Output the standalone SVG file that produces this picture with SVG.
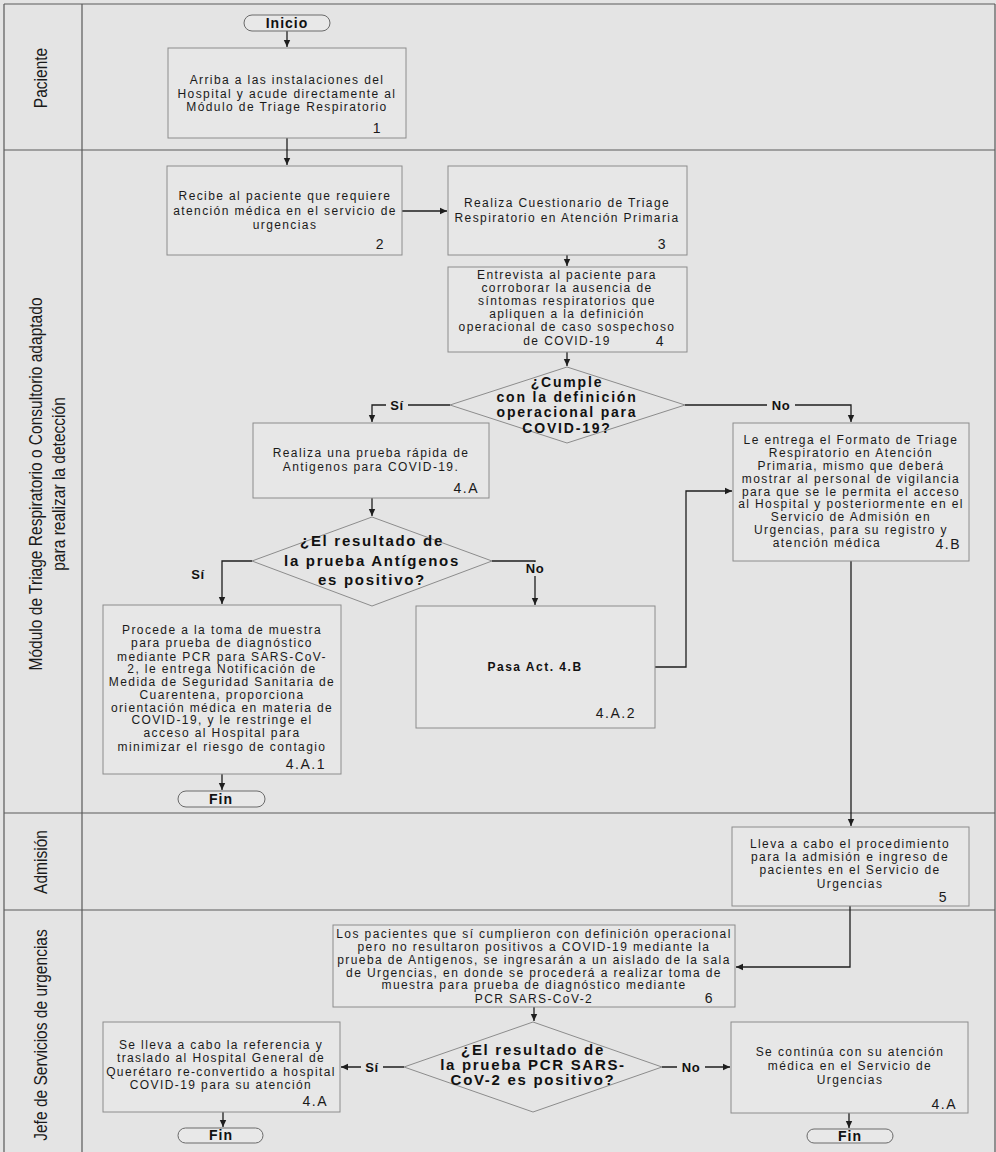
<svg xmlns="http://www.w3.org/2000/svg" width="996" height="1152" viewBox="0 0 996 1152">
<style>
.bg{fill:#e4e4e4}
.lane{stroke:#5a5a5a;stroke-width:1.2;fill:none}
.box{fill:#e7e7e7;stroke:#8c8c8c;stroke-width:1}
.dec{fill:#e5e5e5;stroke:#8c8c8c;stroke-width:1}
.term{fill:#e8e8e8;stroke:#6a6a6a;stroke-width:1}
.t{font-family:"Liberation Sans",Arial,sans-serif;font-size:12px;letter-spacing:1.4px;fill:#1a1a1a;text-anchor:middle}
.n{font-family:"Liberation Sans",Arial,sans-serif;font-size:14px;letter-spacing:1.5px;fill:#1a1a1a;text-anchor:end}
.b{font-family:"Liberation Sans",Arial,sans-serif;font-size:14px;font-weight:bold;letter-spacing:1.8px;fill:#111;text-anchor:middle}
.b2{font-family:"Liberation Sans",Arial,sans-serif;font-size:15px;font-weight:bold;letter-spacing:1.7px;fill:#111;text-anchor:middle}
.tb{font-family:"Liberation Sans",Arial,sans-serif;font-size:14px;font-weight:bold;letter-spacing:1px;fill:#111;text-anchor:middle}
.bs{font-family:"Liberation Sans",Arial,sans-serif;font-size:12px;font-weight:bold;letter-spacing:1.5px;fill:#111;text-anchor:middle}
.lbl{font-family:"Liberation Sans",Arial,sans-serif;font-size:13px;font-weight:bold;letter-spacing:0.5px;fill:#111;text-anchor:middle}
.ln{font-family:"Liberation Sans",Arial,sans-serif;font-size:18.5px;fill:#1a1a1a;text-anchor:middle}
.c{stroke:#1e1e1e;stroke-width:1.3;fill:none}
.lb{fill:#e4e4e4}
</style>
<defs>
<marker id="ah" markerWidth="8" markerHeight="8" refX="7" refY="4" orient="auto" markerUnits="userSpaceOnUse">
<path d="M0,0.8 L7,4 L0,7.2 Z" fill="#1e1e1e"/>
</marker>
</defs>
<rect class="bg" x="0" y="0" width="996" height="1152"/>
<g id="lanes">
<path class="lane" d="M4,4 H995 M4,150 H995 M4,813 H995 M4,910 H995 M4,4 V1152 M82,4 V1152 M995,4 V1152"/>
<text class="ln" transform="translate(47,78) rotate(-90) scale(0.84,1)">Paciente</text>
<text class="ln" transform="translate(42,484) rotate(-90) scale(0.84,1)">Módulo de Triage Respiratorio o Consultorio adaptado</text>
<text class="ln" transform="translate(65,484) rotate(-90) scale(0.84,1)">para realizar la detección</text>
<text class="ln" transform="translate(47,862) rotate(-90) scale(0.84,1)">Admisión</text>
<text class="ln" transform="translate(47,1035) rotate(-90) scale(0.84,1)">Jefe de Servicios de urgencias</text>
</g>
<g id="connectors">
<path class="c" d="M287,31 V47" marker-end="url(#ah)"/>
<path class="c" d="M287,138 V165" marker-end="url(#ah)"/>
<path class="c" d="M402,211 H447" marker-end="url(#ah)"/>
<path class="c" d="M567,255 V266" marker-end="url(#ah)"/>
<path class="c" d="M567,352 V366" marker-end="url(#ah)"/>
<path class="c" d="M450,405 H372 V422" marker-end="url(#ah)"/>
<path class="c" d="M685,405 H851 V422" marker-end="url(#ah)"/>
<path class="c" d="M372,498 V516" marker-end="url(#ah)"/>
<path class="c" d="M252,561 H222 V604" marker-end="url(#ah)"/>
<path class="c" d="M492,561 H535 V605" marker-end="url(#ah)"/>
<path class="c" d="M222,774 V790" marker-end="url(#ah)"/>
<path class="c" d="M655,667 H686 V491 H732" marker-end="url(#ah)"/>
<path class="c" d="M851,561 V826" marker-end="url(#ah)"/>
<path class="c" d="M850,906 V967 H736" marker-end="url(#ah)"/>
<path class="c" d="M534,1007 V1021" marker-end="url(#ah)"/>
<path class="c" d="M404,1067 H341" marker-end="url(#ah)"/>
<path class="c" d="M662,1067 H730" marker-end="url(#ah)"/>
<path class="c" d="M223,1112 V1127" marker-end="url(#ah)"/>
<path class="c" d="M849,1113 V1128" marker-end="url(#ah)"/>
<rect class="lb" x="386" y="398" width="22" height="14"/>
<text class="lbl" x="397" y="410">Sí</text>
<rect class="lb" x="767" y="398" width="28" height="14"/>
<text class="lbl" x="781" y="410">No</text>
<rect class="lb" x="187" y="567" width="22" height="14"/>
<text class="lbl" x="198" y="579">Sí</text>
<rect class="lb" x="521" y="562" width="28" height="14"/>
<text class="lbl" x="535" y="573">No</text>
<rect class="lb" x="361" y="1060" width="22" height="14"/>
<text class="lbl" x="372" y="1072">Sí</text>
<rect class="lb" x="677" y="1060" width="28" height="14"/>
<text class="lbl" x="691" y="1072">No</text>
</g>
<g id="inicio">
<rect class="term" x="244" y="15" width="86" height="16" rx="8"/>
<text class="tb" x="287" y="28">Inicio</text>
</g>
<g id="n1">
<rect class="box" x="168" y="48" width="238" height="90"/>
<text class="t" x="287" y="84">Arriba a las instalaciones del</text>
<text class="t" x="287" y="97.5">Hospital y acude directamente al</text>
<text class="t" x="287" y="111">Módulo de Triage Respiratorio</text>
<text class="n" x="382" y="133">1</text>
</g>
<g id="n2">
<rect class="box" x="167" y="166" width="235" height="89"/>
<text class="t" x="285" y="200">Recibe al paciente que requiere</text>
<text class="t" x="285" y="214.5">atención médica en el servicio de</text>
<text class="t" x="285" y="229">urgencias</text>
<text class="n" x="385" y="249">2</text>
</g>
<g id="n3">
<rect class="box" x="448" y="166" width="239" height="89"/>
<text class="t" x="567" y="207">Realiza Cuestionario de Triage</text>
<text class="t" x="567" y="222">Respiratorio en Atención Primaria</text>
<text class="n" x="667" y="249">3</text>
</g>
<g id="n4">
<rect class="box" x="448" y="267" width="239" height="85"/>
<text class="t" x="567" y="279">Entrevista al paciente para</text>
<text class="t" x="567" y="292">corroborar la ausencia de</text>
<text class="t" x="567" y="305">síntomas respiratorios que</text>
<text class="t" x="567" y="318">apliquen a la definición</text>
<text class="t" x="567" y="331">operacional de caso sospechoso</text>
<text class="t" x="567" y="345">de COVID-19</text>
<text class="n" x="665" y="346">4</text>
</g>
<g id="d1">
<polygon class="dec" points="567,367 685,405 567,443 450,405"/>
<text class="b" x="567" y="387">¿Cumple</text>
<text class="b" x="567" y="402">con la definición</text>
<text class="b" x="567" y="417">operacional para</text>
<text class="b" x="567" y="433">COVID-19?</text>
</g>
<g id="n4A">
<rect class="box" x="253" y="423" width="236" height="75"/>
<text class="t" x="371" y="457">Realiza una prueba rápida de</text>
<text class="t" x="371" y="471">Antigenos para COVID-19.</text>
<text class="n" x="479" y="493">4.A</text>
</g>
<g id="d2">
<polygon class="dec" points="372,517 492,561 372,606 252,561"/>
<text class="b2" x="372" y="546">¿El resultado de</text>
<text class="b2" x="372" y="566">la prueba Antígenos</text>
<text class="b2" x="372" y="585">es positivo?</text>
</g>
<g id="n4B">
<rect class="box" x="733" y="423" width="236" height="138"/>
<text class="t" x="851" y="444">Le entrega el Formato de Triage</text>
<text class="t" x="851" y="457">Respiratorio en Atención</text>
<text class="t" x="851" y="470">Primaria, mismo que deberá</text>
<text class="t" x="851" y="483">mostrar al personal de vigilancia</text>
<text class="t" x="851" y="496">para que se le permita el acceso</text>
<text class="t" x="851" y="508">al Hospital y posteriormente en el</text>
<text class="t" x="851" y="521">Servicio de Admisión en</text>
<text class="t" x="851" y="534">Urgencias,  para su registro y</text>
<text class="t" x="827" y="547">atención médica</text>
<text class="n" x="961" y="549">4.B</text>
</g>
<g id="n4A1">
<rect class="box" x="103" y="605" width="238" height="169"/>
<text class="t" x="222" y="634">Procede a la toma de muestra</text>
<text class="t" x="222" y="647">para prueba de diagnóstico</text>
<text class="t" x="222" y="661">mediante PCR para SARS-CoV-</text>
<text class="t" x="222" y="673">2, le entrega Notificación  de</text>
<text class="t" x="222" y="686">Medida de Seguridad Sanitaria de</text>
<text class="t" x="222" y="699">Cuarentena, proporciona</text>
<text class="t" x="222" y="712">orientación médica en materia de</text>
<text class="t" x="222" y="724">COVID-19, y le restringe el</text>
<text class="t" x="222" y="737">acceso al Hospital  para</text>
<text class="t" x="222" y="751">minimizar el riesgo de contagio</text>
<text class="n" x="326" y="769">4.A.1</text>
</g>
<g id="fin1">
<rect class="term" x="178" y="791" width="87" height="16" rx="8"/>
<text class="tb" x="221" y="804">Fin</text>
</g>
<g id="n4A2">
<rect class="box" x="416" y="606" width="239" height="122"/>
<text class="bs" x="535" y="671">Pasa Act. 4.B</text>
<text class="n" x="636" y="718">4.A.2</text>
</g>
<g id="n5">
<rect class="box" x="732" y="827" width="237" height="79"/>
<text class="t" x="850" y="848">Lleva a cabo el procedimiento</text>
<text class="t" x="850" y="861">para la admisión e ingreso de</text>
<text class="t" x="850" y="874">pacientes en el Servicio de</text>
<text class="t" x="850" y="888">Urgencias</text>
<text class="n" x="948" y="902">5</text>
</g>
<g id="n6">
<rect class="box" x="333" y="925" width="402" height="82"/>
<text class="t" x="534" y="938">Los pacientes que sí cumplieron con definición operacional</text>
<text class="t" x="534" y="951">pero no resultaron positivos a COVID-19 mediante la</text>
<text class="t" x="534" y="964">prueba de Antigenos, se ingresarán a un aislado de la sala</text>
<text class="t" x="534" y="977">de Urgencias,  en donde  se procederá a realizar toma de</text>
<text class="t" x="534" y="989">muestra para prueba de diagnóstico mediante</text>
<text class="t" x="534" y="1003">PCR SARS-CoV-2</text>
<text class="n" x="714" y="1003">6</text>
</g>
<g id="d3">
<polygon class="dec" points="533,1022 662,1067 533,1112 404,1067"/>
<text class="b2" x="533" y="1055">¿El resultado de</text>
<text class="b2" x="533" y="1070">la prueba PCR SARS-</text>
<text class="b2" x="533" y="1085">CoV-2 es positivo?</text>
</g>
<g id="n7">
<rect class="box" x="103" y="1022" width="237" height="90"/>
<text class="t" x="221" y="1049">Se lleva a cabo la referencia y</text>
<text class="t" x="221" y="1062">traslado al Hospital General de</text>
<text class="t" x="221" y="1076">Querétaro re-convertido a hospital</text>
<text class="t" x="221" y="1089">COVID-19 para su atención</text>
<text class="n" x="328" y="1106">4.A</text>
</g>
<g id="fin2">
<rect class="term" x="178" y="1128" width="85" height="15" rx="7.5"/>
<text class="tb" x="221" y="1140">Fin</text>
</g>
<g id="n8">
<rect class="box" x="731" y="1022" width="237" height="91"/>
<text class="t" x="850" y="1056">Se continúa con su atención</text>
<text class="t" x="850" y="1070">médica en el Servicio de</text>
<text class="t" x="850" y="1084">Urgencias</text>
<text class="n" x="957" y="1109">4.A</text>
</g>
<g id="fin3">
<rect class="term" x="807" y="1129" width="86" height="14" rx="7"/>
<text class="tb" x="850" y="1141">Fin</text>
</g>
</svg>
